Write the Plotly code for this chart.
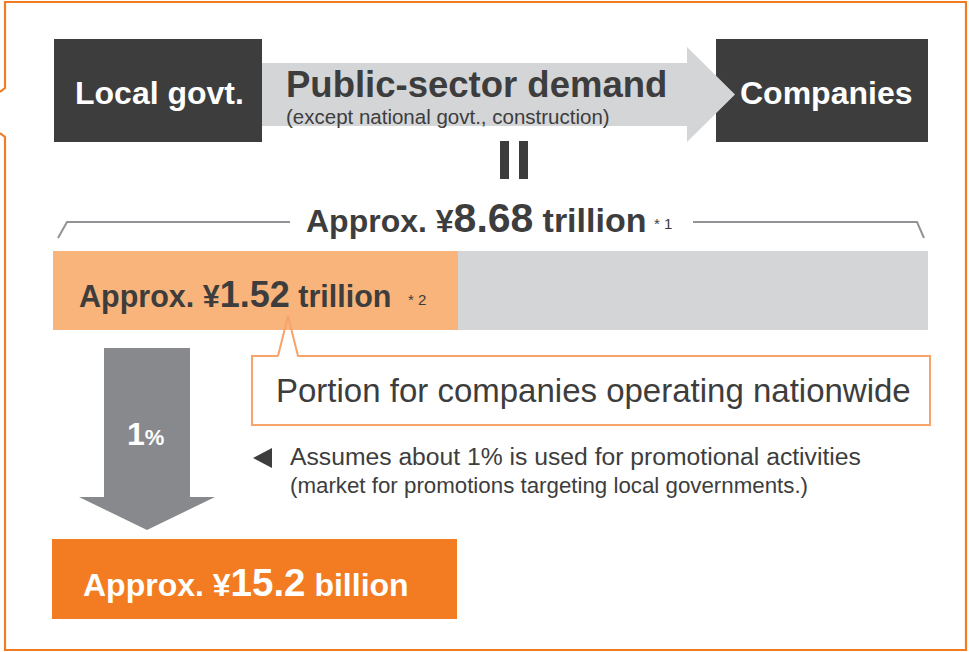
import plotly.graph_objects as go

# ---- content / values ----
flow_nodes = ["Local govt.", "Companies"]
flow_title = "Public-sector demand"
flow_note = "(except national govt., construction)"
amount_prefix = "Approx. ¥"
total_amount = 8.68
portion_amount = 1.52
market_amount = 15.2
amount_units = ["trillion", "trillion", "billion"]
footnotes = ["* 1", "* 2"]
promo_share_pct = 1
callout_text = "Portion for companies operating nationwide"
assumption_lines = ["Assumes about 1% is used for promotional activities",
                    "(market for promotions targeting local governments.)"]

# ---- styles ----
FONT = "Liberation Sans, Arial, Helvetica, sans-serif"
DARK = "#3d3d3d"
ORANGE = "#f37c22"
LIGHT_ORANGE = "#f8b47b"
CALLOUT_LINE = "#f7a36a"
LIGHT_GRAY = "#d4d5d7"
MID_GRAY = "#88898d"
LINE_GRAY = "#929397"

fig = go.Figure()

shapes = []
def rect(x0, y0, x1, y1, fill, line=None, lw=0):
    shapes.append(dict(type="rect", xref="x", yref="y", x0=x0, y0=y0, x1=x1, y1=y1,
                       fillcolor=fill, line=dict(color=line or fill, width=lw), layer="above"))
def path(d, fill=None, line=None, lw=0):
    s = dict(type="path", xref="x", yref="y", path=d, layer="above",
             line=dict(color=line or "rgba(0,0,0,0)", width=lw))
    if fill:
        s["fillcolor"] = fill
    shapes.append(s)

# outer frame (speech bubble pointing left)
path("M 0,133 L 5,137 L 5,650 L 966,650 L 966,2 L 5,2 L 5,88 L 0,92", line=ORANGE, lw=2.2)

# flow boxes
rect(54, 39, 262, 142, DARK)
rect(716, 39, 928, 142, DARK)
# flow arrow
path("M 262,63 L 687,63 L 687,47 L 735,94.5 L 687,142 L 687,126 L 262,126 Z", fill=LIGHT_GRAY)
# equals bars
rect(500, 141, 509, 179, DARK)
rect(519, 141, 528, 179, DARK)
# bracket
path("M 58,238 L 67,222 L 290,222", line=LINE_GRAY, lw=2)
path("M 693,222 L 917,222 L 924,238", line=LINE_GRAY, lw=2)
# callout pointer fill (under bar)
path("M 278,357 L 288,316 L 298,357 Z", fill="white")
# bar
rect(53, 251, 458, 330, LIGHT_ORANGE)
rect(458, 251, 928, 330, LIGHT_GRAY)
# callout box
rect(252, 356, 930, 425, "white")
path("M 278,356 L 252,356 L 252,425 L 930,425 L 930,356 L 298,356 L 288,316 L 278,356",
     line=CALLOUT_LINE, lw=2)
# down arrow
path("M 104,348 L 190,348 L 190,497 L 215,497 L 147,530 L 79,497 L 104,497 Z", fill=MID_GRAY)
# small pointer triangle
path("M 272,448 L 272,468 L 253,458 Z", fill=DARK)
# result box
rect(52, 539, 457, 619, ORANGE)

ann = []
def text(x, y, t, size, color=DARK, weight="normal", xanchor="left"):
    ann.append(dict(x=x, y=y, xref="x", yref="y", text=t, showarrow=False,
                    xanchor=xanchor, yanchor="middle", align="left",
                    font=dict(family=FONT, size=size, color=color, weight=weight)))

def span(t, size):
    return f"<span style='font-size:{size}px'>{t}</span>"

text(159, 93, flow_nodes[0], 32, "white", "bold", "center")
text(826, 93, flow_nodes[1], 32, "white", "bold", "center")
text(284, 96, "<b>" + span(flow_title, 36.5) + "</b><br>" + flow_note, 20.5, DARK)

text(304, 218, span(amount_prefix, 32) + span(f"{total_amount:.2f}", 41) + " " + span(amount_units[0], 34),
     33, DARK, "bold")
text(652, 223, footnotes[0], 15, DARK)

text(77, 294, span(amount_prefix, 30.5) + span(f"{portion_amount:.2f}", 36) + " " + span(amount_units[1], 30.5),
     30.5, DARK, "bold")
text(406, 299, footnotes[1], 15, DARK)

text(274, 390, callout_text, 33, DARK)
text(288, 456, assumption_lines[0], 24.7, DARK)
text(288, 485, assumption_lines[1], 22.3, DARK)

text(125, 434, span(str(promo_share_pct), 32) + span("%", 22), 32, "white", "bold")

text(81, 582, span(amount_prefix, 32) + span(f"{market_amount:.1f}", 38.5) + " " + span(amount_units[2], 32),
     32, "white", "bold")

fig.update_layout(
    width=969, height=652,
    margin=dict(l=0, r=0, t=0, b=0),
    paper_bgcolor="white", plot_bgcolor="white",
    xaxis=dict(range=[0, 969], visible=False, fixedrange=True),
    yaxis=dict(range=[652, 0], visible=False, fixedrange=True),
    shapes=shapes, annotations=ann, showlegend=False,
)

fig.write_html("out.html", config={"displayModeBar": False},
               post_script="document.body.style.margin='0';")
